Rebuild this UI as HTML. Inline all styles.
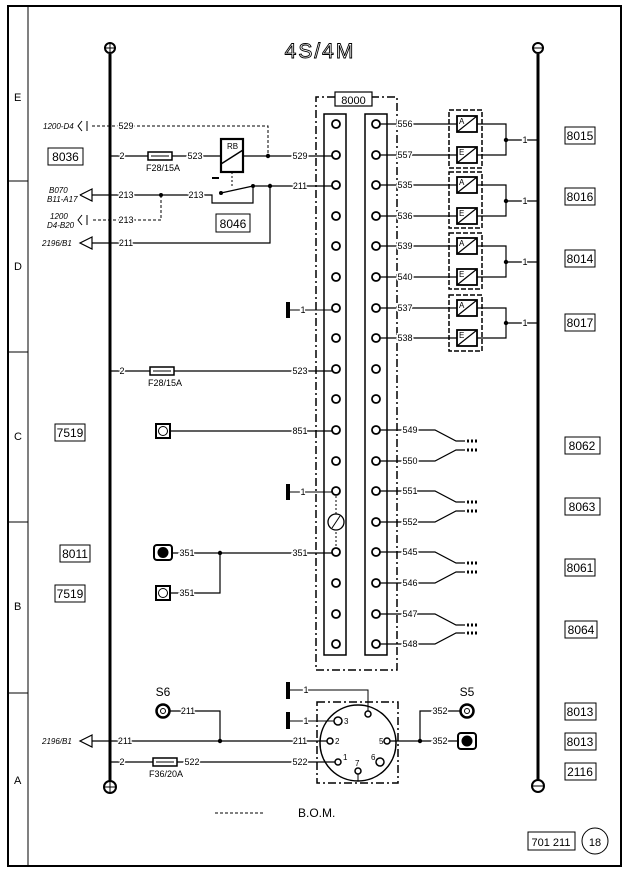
<!DOCTYPE html>
<html><head><meta charset="utf-8"><style>
html,body{margin:0;padding:0;background:#fff;}
svg{display:block;}
text{font-family:"Liberation Sans",sans-serif;fill:#000;}
.l{font-size:9px;stroke:#fff;stroke-width:3px;paint-order:stroke;}
.b{font-size:12px;}
</style></head><body>
<svg width="630" height="872" viewBox="0 0 630 872" xmlns="http://www.w3.org/2000/svg">
<g fill="none" stroke="#000">
<rect x="8" y="6" width="613" height="860" stroke-width="2"/>
<line x1="28" y1="6" x2="28" y2="866" stroke-width="1"/>
<line x1="8" y1="181" x2="28" y2="181" stroke-width="1"/>
<line x1="8" y1="352" x2="28" y2="352" stroke-width="1"/>
<line x1="8" y1="522" x2="28" y2="522" stroke-width="1"/>
<line x1="8" y1="693" x2="28" y2="693" stroke-width="1"/>
<line x1="110" y1="54" x2="110" y2="781" stroke-width="3"/>
<circle cx="110" cy="48" r="5" stroke-width="2"/><line x1="105" y1="48" x2="115" y2="48"/><line x1="110" y1="43" x2="110" y2="53"/>
<circle cx="110" cy="787" r="6" stroke-width="2"/><line x1="104" y1="787" x2="116" y2="787"/><line x1="110" y1="781" x2="110" y2="793"/>
<line x1="538" y1="54" x2="538" y2="780" stroke-width="3"/>
<circle cx="538" cy="48" r="5" stroke-width="2"/><line x1="533" y1="48" x2="543" y2="48"/>
<circle cx="538" cy="786" r="6" stroke-width="2"/><line x1="532" y1="786" x2="544" y2="786"/>

<path d="M335,97 H316 V670 H397 V97 H372" stroke-width="1.5" stroke-dasharray="8,3,2,3"/>
<rect x="324" y="114" width="22" height="541" stroke-width="1.5"/>
<rect x="365" y="114" width="22" height="541" stroke-width="1.5"/>

<path d="M92,126 H268 V156" stroke-width="1" stroke-dasharray="3,2"/>
<path d="M82,121 L78,126 L82,131 M87,121 V131" stroke-width="1"/>
<line x1="110" y1="156" x2="336" y2="156" stroke-width="1.2"/>
<rect x="148" y="152" width="24" height="8" stroke-width="1.5" fill="#fff"/>
<line x1="151" y1="156" x2="169" y2="156" stroke-width="1"/>
<rect x="221" y="139" width="22" height="33" stroke-width="2.2" fill="#fff"/>
<line x1="221" y1="164" x2="243" y2="150" stroke-width="1.5"/>
<line x1="232" y1="172" x2="232" y2="188" stroke-width="1" stroke-dasharray="2,2"/>
<line x1="212" y1="178" x2="219" y2="178" stroke-width="2"/>
<path d="M90,195 H212 V203 H253 V186 M221,193 L253,186" stroke-width="1.2"/>
<path d="M253,186 H336" stroke-width="1.2"/>
<path d="M270,186 V243 H90" stroke-width="1.2"/>
<path d="M161,195 V220 H92" stroke-width="1" stroke-dasharray="3,2"/>
<path d="M82,215 L78,220 L82,225 M87,215 V225" stroke-width="1"/>
<path d="M92,189 L80,195 L92,201 Z" stroke-width="1.2" fill="#fff"/>
<path d="M92,237 L80,243 L92,249 Z" stroke-width="1.2" fill="#fff"/>
<rect x="48" y="148" width="35" height="17" stroke-width="1"/>
<rect x="216" y="214" width="34" height="18" stroke-width="1"/>

<line x1="110" y1="371" x2="336" y2="371" stroke-width="1.2"/>
<rect x="150" y="367" width="24" height="8" stroke-width="1.5" fill="#fff"/>
<line x1="153" y1="371" x2="171" y2="371" stroke-width="1"/>
<line x1="170" y1="431" x2="336" y2="431" stroke-width="1.2"/>
<rect x="156" y="424" width="14" height="14" stroke-width="2"/><circle cx="163" cy="431" r="4.5" stroke-width="1"/>
<line x1="290" y1="310" x2="336" y2="310" stroke-width="1"/>
<line x1="290" y1="492" x2="336" y2="492" stroke-width="1"/>
<rect x="286" y="302" width="4" height="16" fill="#000" stroke="none"/>
<rect x="286" y="484" width="4" height="16" fill="#000" stroke="none"/>
<line x1="336" y1="492" x2="336" y2="553" stroke-width="1" stroke-dasharray="2,2"/>
<circle cx="336" cy="522" r="8" stroke-width="1.3" fill="#fff"/><line x1="332" y1="528" x2="340" y2="516"/>
<line x1="171" y1="553" x2="336" y2="553" stroke-width="1.2"/>
<path d="M171,593 H220 V553" stroke-width="1.2"/>
<rect x="154" y="545" width="18" height="15" rx="3" stroke-width="2"/><circle cx="163" cy="552.5" r="5" fill="#000"/>
<rect x="156" y="586" width="14" height="14" stroke-width="2"/><circle cx="163" cy="593" r="4.5" stroke-width="1"/>
<rect x="55" y="424" width="30" height="17" stroke-width="1"/>
<rect x="60" y="545" width="30" height="17" stroke-width="1"/>
<rect x="55" y="585" width="30" height="17" stroke-width="1"/>

<g stroke-width="1.5" stroke-dasharray="5,2">
<rect x="449" y="110" width="33" height="58"/>
<rect x="449" y="172" width="33" height="56"/>
<rect x="449" y="233" width="33" height="56"/>
<rect x="449" y="295" width="33" height="56"/>
</g>
<g stroke-width="1.2">
<path d="M376,124 H457 M376,155 H457 M477,124 H506 V155 H477 M506,140 H538"/>
<path d="M376,185 H457 M376,216 H457 M477,185 H506 V216 H477 M506,201 H538"/>
<path d="M376,246 H457 M376,277 H457 M477,246 H506 V277 H477 M506,262 H538"/>
<path d="M376,308 H457 M376,338 H457 M477,308 H506 V338 H477 M506,323 H538"/>
</g>
<g stroke-width="1.8" fill="#fff">
<rect x="457" y="116" width="20" height="16"/><rect x="457" y="147" width="20" height="16"/>
<rect x="457" y="177" width="20" height="16"/><rect x="457" y="208" width="20" height="16"/>
<rect x="457" y="238" width="20" height="16"/><rect x="457" y="269" width="20" height="16"/>
<rect x="457" y="300" width="20" height="16"/><rect x="457" y="330" width="20" height="16"/>
</g>
<g stroke-width="1.2">
<path d="M457,132 L477,116 M457,163 L477,147 M457,193 L477,177 M457,224 L477,208 M457,254 L477,238 M457,285 L477,269 M457,316 L477,300 M457,346 L477,330"/>
</g>
<rect x="565" y="127" width="30" height="17" stroke-width="1"/>
<rect x="565" y="188" width="30" height="17" stroke-width="1"/>
<rect x="565" y="250" width="30" height="17" stroke-width="1"/>
<rect x="565" y="314" width="30" height="17" stroke-width="1"/>

<g stroke-width="1.2">
<path d="M376,430 H435 L456,441 H465 M376,461 H435 L456,450 H465"/>
<path d="M376,491 H435 L456,502 H465 M376,522 H435 L456,511 H465"/>
<path d="M376,552 H435 L456,563 H465 M376,583 H435 L456,572 H465"/>
<path d="M376,614 H435 L456,625 H465 M376,644 H435 L456,633 H465"/>
</g>
<g stroke-width="3" stroke-dasharray="2,2">
<path d="M467,441 H479 M467,450 H479 M467,502 H479 M467,511 H479 M467,563 H479 M467,572 H479 M467,625 H479 M467,633 H479"/>
</g>
<rect x="565" y="437" width="35" height="17" stroke-width="1"/>
<rect x="565" y="498" width="35" height="17" stroke-width="1"/>
<rect x="565" y="559" width="30" height="17" stroke-width="1"/>
<rect x="565" y="621" width="32" height="17" stroke-width="1"/>

<line x1="90" y1="741" x2="330" y2="741" stroke-width="1.2"/>
<path d="M92,735 L80,741 L92,747 Z" stroke-width="1.2" fill="#fff"/>
<path d="M170,711 H220 V741" stroke-width="1.2"/>
<circle cx="163" cy="711" r="6.5" stroke-width="2.5"/><circle cx="163" cy="711" r="2.5" stroke-width="1"/>
<line x1="110" y1="762" x2="336" y2="762" stroke-width="1.2"/>
<rect x="153" y="758" width="24" height="8" stroke-width="1.5" fill="#fff"/>
<line x1="156" y1="762" x2="174" y2="762" stroke-width="1"/>
<path d="M317,702 H398 V783 H317 Z" stroke-width="1.5" stroke-dasharray="8,3,2,3"/>
<circle cx="358" cy="743" r="38" stroke-width="1.5"/>
<rect x="286" y="682" width="4" height="17" fill="#000" stroke="none"/>
<rect x="286" y="712" width="4" height="17" fill="#000" stroke="none"/>
<path d="M290,690 H368 V711" stroke-width="1"/>
<line x1="290" y1="721" x2="334" y2="721" stroke-width="1"/>
<line x1="358" y1="774" x2="358" y2="781" stroke-width="1"/>
<path d="M390,741 H440 M420,741 V711 H460" stroke-width="1.2"/>
<line x1="440" y1="741" x2="458" y2="741" stroke-width="1.2"/>
<g stroke-width="1.5" fill="#fff">
<circle cx="368" cy="714" r="3"/><circle cx="338" cy="721" r="4"/><circle cx="330" cy="741" r="3"/>
<circle cx="338" cy="762" r="3"/><circle cx="358" cy="771" r="3"/><circle cx="380" cy="762" r="4"/><circle cx="387" cy="741" r="3"/>
</g>
<circle cx="467" cy="711" r="6.5" stroke-width="2.5"/><circle cx="467" cy="711" r="2.5" stroke-width="1"/>
<rect x="458" y="733" width="18" height="16" rx="3" stroke-width="2"/><circle cx="467" cy="741" r="5" fill="#000"/>
<rect x="565" y="703" width="31" height="17" stroke-width="1"/>
<rect x="565" y="733" width="31" height="17" stroke-width="1"/>
<rect x="565" y="763" width="31" height="17" stroke-width="1"/>
<line x1="215" y1="813" x2="265" y2="813" stroke-width="1" stroke-dasharray="3,2"/>
<rect x="528" y="832" width="47" height="18" stroke-width="1"/>
<circle cx="595" cy="841" r="13" stroke-width="1"/>
<rect x="335" y="92" width="37" height="14" stroke-width="1.2" fill="#fff"/>
</g>

<g fill="#000">
<circle cx="268" cy="156" r="2.2"/><circle cx="270" cy="186" r="2.2"/><circle cx="161" cy="195" r="2"/>
<circle cx="253" cy="186" r="2"/><circle cx="221" cy="193" r="2"/>
<circle cx="506" cy="140" r="2.2"/><circle cx="506" cy="201" r="2.2"/><circle cx="506" cy="262" r="2.2"/><circle cx="506" cy="323" r="2.2"/>
<circle cx="220" cy="553" r="2.2"/><circle cx="220" cy="741" r="2.2"/><circle cx="420" cy="741" r="2.2"/>
</g>

<g fill="#fff" stroke="#000" stroke-width="1.8">
<circle cx="336" cy="124" r="4"/><circle cx="336" cy="155" r="4"/><circle cx="336" cy="185" r="4"/><circle cx="336" cy="216" r="4"/><circle cx="336" cy="246" r="4"/><circle cx="336" cy="277" r="4"/><circle cx="336" cy="308" r="4"/><circle cx="336" cy="338" r="4"/><circle cx="336" cy="369" r="4"/><circle cx="336" cy="399" r="4"/><circle cx="336" cy="430" r="4"/><circle cx="336" cy="461" r="4"/><circle cx="336" cy="491" r="4"/><circle cx="336" cy="552" r="4"/><circle cx="336" cy="583" r="4"/><circle cx="336" cy="614" r="4"/><circle cx="336" cy="644" r="4"/>
<circle cx="376" cy="124" r="4"/><circle cx="376" cy="155" r="4"/><circle cx="376" cy="185" r="4"/><circle cx="376" cy="216" r="4"/><circle cx="376" cy="246" r="4"/><circle cx="376" cy="277" r="4"/><circle cx="376" cy="308" r="4"/><circle cx="376" cy="338" r="4"/><circle cx="376" cy="369" r="4"/><circle cx="376" cy="399" r="4"/><circle cx="376" cy="430" r="4"/><circle cx="376" cy="461" r="4"/><circle cx="376" cy="491" r="4"/><circle cx="376" cy="522" r="4"/><circle cx="376" cy="552" r="4"/><circle cx="376" cy="583" r="4"/><circle cx="376" cy="614" r="4"/><circle cx="376" cy="644" r="4"/>
</g>

<text x="320" y="58" text-anchor="middle" style="font-size:21px;fill:#fff;stroke:#000;stroke-width:0.9px;letter-spacing:2px">4S/4M</text>
<g font-size="11">
<text x="14" y="101">E</text><text x="14" y="270">D</text><text x="14" y="440">C</text><text x="14" y="610">B</text><text x="14" y="784">A</text>
</g>
<g class="l" font-style="italic">
<text x="43" y="129" style="font-size:8px">1200-D4</text>
<text x="49" y="193" style="font-size:8px">B070</text><text x="47" y="202" style="font-size:8px">B11-A17</text>
<text x="50" y="219" style="font-size:8px">1200</text><text x="47" y="228" style="font-size:8px">D4-B20</text>
<text x="42" y="246" style="font-size:8px">2196/B1</text>
<text x="42" y="744" style="font-size:8px">2196/B1</text>
</g>
<g class="l" text-anchor="middle">
<text x="126" y="129">529</text><text x="122" y="159">2</text><text x="195" y="159">523</text><text x="300" y="159">529</text>
<text x="126" y="198">213</text><text x="196" y="198">213</text><text x="300" y="189">211</text>
<text x="126" y="223">213</text><text x="126" y="246">211</text>
<text x="303" y="313">1</text><text x="122" y="374">2</text><text x="300" y="374">523</text>
<text x="300" y="434">851</text><text x="303" y="495">1</text>
<text x="187" y="556">351</text><text x="300" y="556">351</text><text x="187" y="596">351</text>
<text x="405" y="127">556</text><text x="405" y="158">557</text><text x="405" y="188">535</text><text x="405" y="219">536</text>
<text x="405" y="249">539</text><text x="405" y="280">540</text><text x="405" y="311">537</text><text x="405" y="341">538</text>
<text x="525" y="143">1</text><text x="525" y="204">1</text><text x="525" y="265">1</text><text x="525" y="326">1</text>
<text x="410" y="433">549</text><text x="410" y="464">550</text><text x="410" y="494">551</text><text x="410" y="525">552</text>
<text x="410" y="555">545</text><text x="410" y="586">546</text><text x="410" y="617">547</text><text x="410" y="647">548</text>
<text x="188" y="714">211</text><text x="125" y="744">211</text><text x="300" y="744">211</text>
<text x="122" y="765">2</text><text x="192" y="765">522</text><text x="300" y="765">522</text>
<text x="306" y="693">1</text><text x="306" y="724">1</text>
<text x="440" y="714">352</text><text x="440" y="744">352</text>
</g>
<g font-size="8">
<text x="344" y="724">3</text><text x="335" y="744">2</text><text x="343" y="760">1</text><text x="355" y="766">7</text><text x="371" y="760">6</text><text x="379" y="744">5</text>
<text x="227" y="149">RB</text>
<text x="459" y="124">A</text><text x="459" y="155">E</text><text x="459" y="185">A</text><text x="459" y="216">E</text>
<text x="459" y="246">A</text><text x="459" y="277">E</text><text x="459" y="308">A</text><text x="459" y="338">E</text>
</g>
<g font-size="9">
<text x="146" y="171">F28/15A</text><text x="148" y="386">F28/15A</text><text x="149" y="777">F36/20A</text>
</g>
<g class="b" text-anchor="middle">
<text x="65.5" y="161">8036</text><text x="233" y="228">8046</text><text x="353.5" y="104" font-size="11">8000</text>
<text x="580" y="140">8015</text><text x="580" y="201">8016</text><text x="580" y="263">8014</text><text x="580" y="327">8017</text>
<text x="70" y="437">7519</text><text x="75" y="558">8011</text><text x="70" y="598">7519</text>
<text x="582" y="450">8062</text><text x="582" y="511">8063</text><text x="580" y="572">8061</text><text x="581" y="634">8064</text>
<text x="580" y="716">8013</text><text x="580" y="746">8013</text><text x="580" y="776">2116</text>
<text x="163" y="696">S6</text><text x="467" y="696">S5</text>
<text x="298" y="817" text-anchor="start">B.O.M.</text>
<text x="551" y="846" font-size="11">701 211</text><text x="595" y="846" font-size="11">18</text>
</g>
</svg>
</body></html>
